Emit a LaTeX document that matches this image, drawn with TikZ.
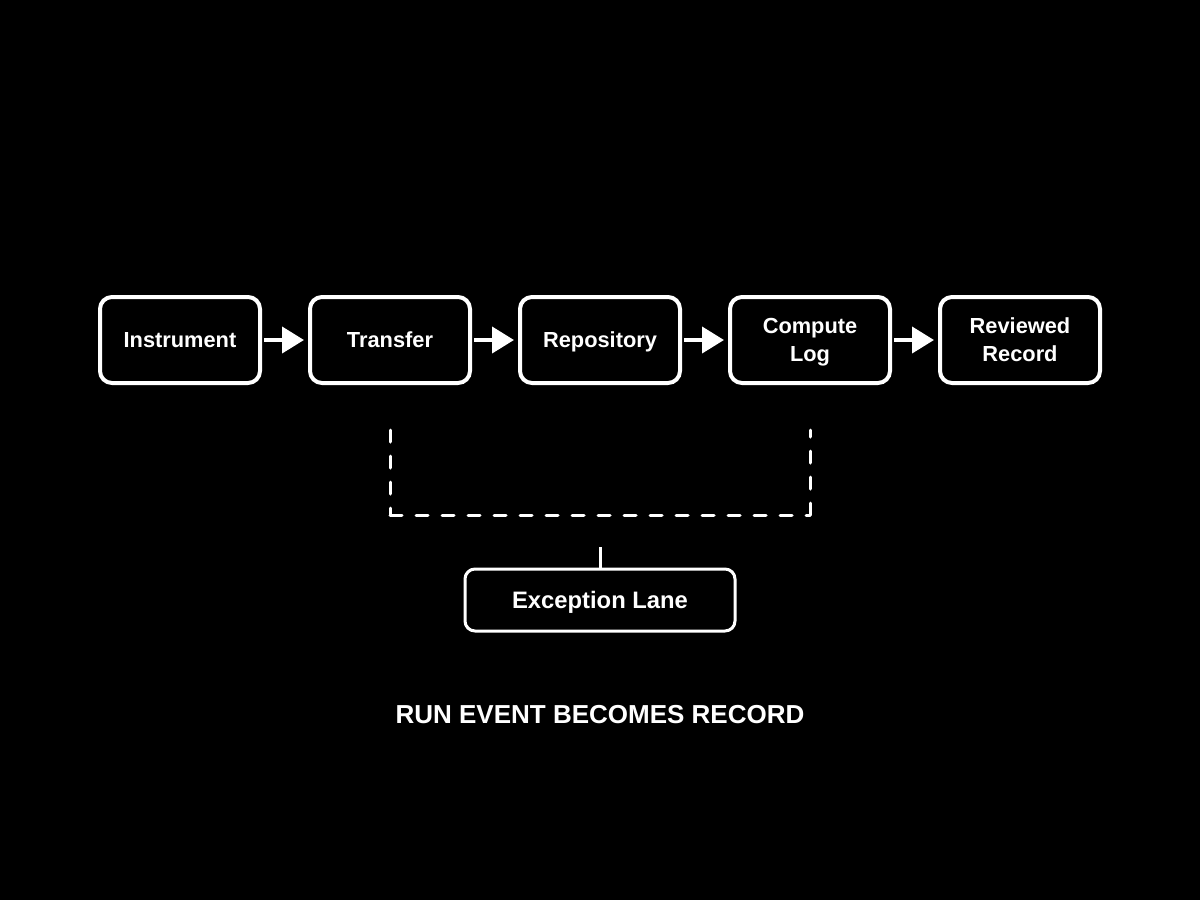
\documentclass[tikz,border=0pt]{standalone}
\usepackage{fontspec}
\setmainfont{Liberation Sans}
\usetikzlibrary{arrows.meta}
\newcommand\cstrut{\rule[-4.6pt]{0pt}{24pt}}
\newcommand\estrut{\rule[-4.8pt]{0pt}{26pt}}
\begin{document}
\begin{tikzpicture}[x=1pt,y=-1pt,
  stage/.style={draw=white, line width=4pt, rounded corners=12pt, fill=black,
    minimum width=160pt, minimum height=86pt, inner sep=0pt,
    text=white, align=center, font=\bfseries\fontsize{21.8}{28}\selectfont},
  flow/.style={draw=white, line width=4pt, -{Triangle[length=22pt,width=26pt]}},
  exc/.style={draw=white, line width=3pt, rounded corners=10pt, fill=black,
    minimum width=270pt, minimum height=62pt, inner sep=0pt,
    text=white, font=\bfseries\fontsize{23.8}{28}\selectfont},
  lane/.style={draw=white, line width=3pt, line cap=round, dash pattern=on 12pt off 14pt},
  tie/.style={draw=white, line width=3pt},
  caption/.style={text=white, font=\bfseries\fontsize{26}{30}\selectfont}]
\fill[black] (0,0) rectangle (1200,900);
\useasboundingbox (0,0) rectangle (1200,900);

\node[stage] (s1) at (180,340) {\cstrut Instrument};
\node[stage] (s2) at (390,340) {\cstrut Transfer};
\node[stage] (s3) at (600,340) {\cstrut Repository};
\node[stage] (s4) at (810,340) {\cstrut Compute\\\cstrut Log};
\node[stage] (s5) at (1020,340) {\cstrut Reviewed\\\cstrut Record};

\draw[flow] ([xshift=2pt]s1.east) -- ([xshift=-4pt]s2.west);
\draw[flow] ([xshift=2pt]s2.east) -- ([xshift=-4pt]s3.west);
\draw[flow] ([xshift=2pt]s3.east) -- ([xshift=-4pt]s4.west);
\draw[flow] ([xshift=2pt]s4.east) -- ([xshift=-4pt]s5.west);

\coordinate (la) at ([yshift=-45pt]s2.south);
\coordinate (lb) at ([yshift=-45pt]s4.south);
\coordinate (ca) at (la |- 0,515);
\coordinate (cb) at (lb |- 0,515);
\draw[lane] (la) -- (ca);
\draw[lane] (ca) -- (cb);
\draw[lane] (cb) -- (lb);

\node[exc] (ex) at (600,600) {\estrut Exception Lane};
\coordinate (tt) at (600,547);
\draw[tie] (tt) -- (ex.north);

\node[caption] (cap) at (600,715) {RUN EVENT BECOMES RECORD};
\end{tikzpicture}
\end{document}
